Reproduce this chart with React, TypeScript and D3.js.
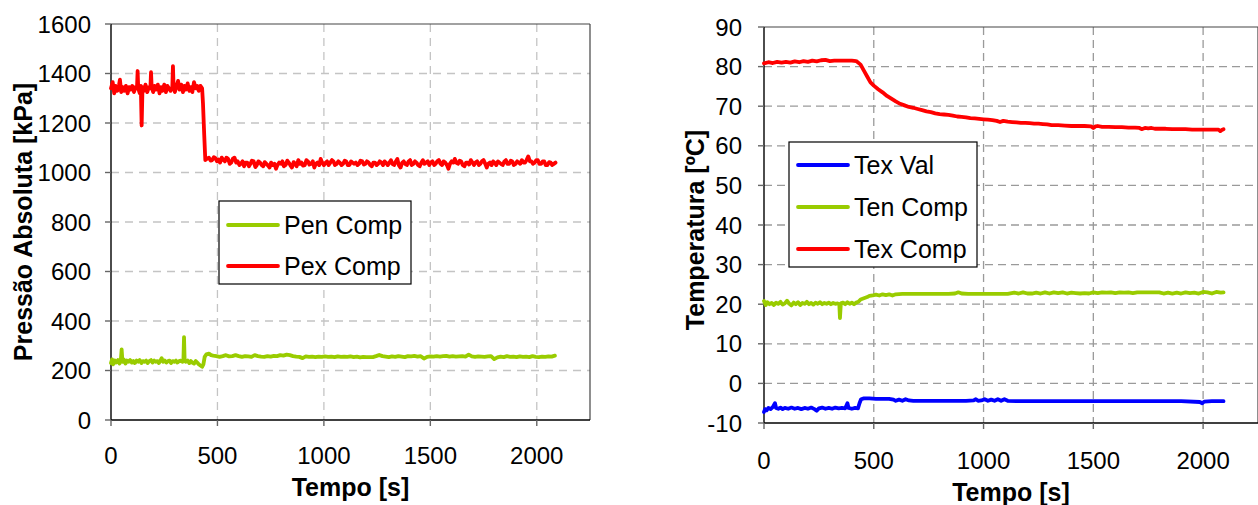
import * as d3 from "d3";

// time [s], value pairs
const penComp: [number, number][] = [
  [0, 230], [5, 245], [10, 225], [18, 240], [25, 232], [33, 242], [40, 228], [46, 240], [50, 285], [54, 235],
  [60, 245], [68, 228], [75, 240], [83, 235], [90, 242], [98, 232], [105, 238], [112, 230], [120, 240], [128, 235],
  [135, 242], [143, 230], [150, 238], [158, 235], [165, 240], [172, 230], [180, 238], [188, 242], [195, 232], [203, 240],
  [210, 235], [218, 238], [225, 230], [232, 240], [238, 250], [245, 235], [252, 240], [260, 232], [268, 238], [275, 240],
  [282, 230], [290, 238], [298, 235], [305, 240], [312, 232], [320, 238], [328, 240], [335, 235], [340, 238], [343, 335],
  [346, 238], [352, 235], [360, 240], [368, 230], [375, 238], [382, 232], [390, 228], [398, 238], [405, 232], [412, 225],
  [420, 220], [428, 215], [434, 225], [440, 255], [448, 265], [460, 268], [470, 262], [480, 260], [495, 258], [510, 255],
  [525, 258], [540, 262], [555, 257], [570, 258], [585, 262], [600, 258], [615, 255], [630, 258], [645, 257], [660, 255],
  [675, 262], [690, 258], [705, 256], [720, 255], [735, 258], [750, 256], [765, 259], [780, 258], [795, 262], [810, 260],
  [825, 264], [840, 262], [855, 258], [870, 256], [885, 255], [900, 250], [915, 257], [930, 255], [945, 256], [960, 254],
  [975, 256], [990, 255], [1005, 257], [1020, 255], [1035, 256], [1050, 254], [1065, 257], [1080, 255], [1095, 256], [1110, 255],
  [1125, 257], [1140, 254], [1155, 256], [1170, 253], [1185, 255], [1200, 254], [1215, 254], [1230, 254], [1245, 258], [1260, 263],
  [1275, 258], [1290, 256], [1305, 254], [1320, 257], [1335, 255], [1350, 258], [1365, 256], [1380, 254], [1395, 258], [1410, 257],
  [1425, 259], [1440, 256], [1455, 258], [1470, 248], [1485, 255], [1500, 257], [1515, 256], [1530, 258], [1545, 256], [1560, 258],
  [1575, 259], [1590, 256], [1605, 258], [1620, 256], [1635, 257], [1650, 258], [1665, 256], [1680, 264], [1695, 257], [1710, 255],
  [1725, 257], [1740, 256], [1755, 255], [1770, 257], [1785, 258], [1800, 246], [1815, 253], [1830, 256], [1845, 254], [1860, 258],
  [1875, 255], [1890, 256], [1905, 254], [1920, 257], [1935, 255], [1950, 256], [1965, 254], [1980, 258], [1995, 255], [2010, 254],
  [2025, 256], [2040, 255], [2055, 257], [2070, 256], [2085, 260],
];

const pexComp: [number, number][] = [
  [0, 1340], [8, 1365], [15, 1320], [22, 1350], [30, 1330], [38, 1355], [42, 1375], [48, 1325], [55, 1345], [62, 1330],
  [70, 1350], [78, 1320], [85, 1345], [92, 1335], [100, 1350], [108, 1325], [115, 1345], [122, 1340], [125, 1410], [128, 1340],
  [135, 1320], [140, 1350], [144, 1190], [148, 1345], [155, 1330], [162, 1355], [170, 1325], [178, 1345], [185, 1340], [188, 1405],
  [191, 1345], [198, 1325], [205, 1350], [212, 1335], [220, 1355], [228, 1320], [235, 1345], [242, 1330], [250, 1355], [258, 1325],
  [265, 1350], [272, 1340], [280, 1330], [288, 1345], [291, 1430], [294, 1345], [300, 1325], [308, 1350], [315, 1370], [322, 1335],
  [330, 1355], [338, 1325], [345, 1350], [352, 1335], [360, 1360], [368, 1330], [375, 1345], [382, 1325], [390, 1365], [398, 1340],
  [405, 1350], [412, 1330], [420, 1350], [428, 1340], [432, 1280], [438, 1150], [443, 1050], [450, 1055], [460, 1060], [468, 1048],
  [475, 1050], [483, 1062], [490, 1058], [498, 1045], [505, 1052], [512, 1040], [520, 1060], [528, 1050], [535, 1045], [542, 1060],
  [550, 1055], [558, 1035], [565, 1040], [572, 1055], [580, 1060], [588, 1040], [595, 1045], [603, 1030], [610, 1035], [618, 1045],
  [625, 1025], [632, 1040], [640, 1040], [648, 1025], [655, 1035], [662, 1048], [670, 1045], [678, 1022], [685, 1030], [692, 1045],
  [700, 1040], [708, 1030], [715, 1025], [722, 1042], [730, 1035], [738, 1028], [745, 1020], [752, 1040], [760, 1030], [768, 1035],
  [775, 1015], [782, 1030], [790, 1040], [798, 1035], [805, 1045], [812, 1025], [820, 1030], [828, 1048], [835, 1040], [842, 1030],
  [850, 1020], [858, 1042], [865, 1035], [872, 1025], [880, 1050], [888, 1035], [895, 1040], [902, 1028], [910, 1030], [918, 1050],
  [925, 1045], [932, 1032], [940, 1035], [948, 1045], [955, 1020], [962, 1035], [970, 1040], [978, 1030], [985, 1055], [992, 1040],
  [1000, 1030], [1008, 1040], [1015, 1045], [1022, 1030], [1030, 1040], [1038, 1050], [1045, 1045], [1052, 1030], [1060, 1035], [1068, 1045],
  [1075, 1040], [1083, 1030], [1090, 1035], [1098, 1048], [1105, 1045], [1112, 1030], [1120, 1030], [1128, 1045], [1135, 1040], [1142, 1035],
  [1150, 1040], [1158, 1030], [1165, 1035], [1172, 1048], [1180, 1045], [1188, 1032], [1195, 1035], [1202, 1045], [1210, 1040], [1218, 1030],
  [1225, 1025], [1232, 1040], [1240, 1040], [1248, 1030], [1255, 1035], [1262, 1045], [1270, 1040], [1278, 1030], [1285, 1045], [1292, 1040],
  [1300, 1030], [1308, 1040], [1315, 1050], [1322, 1035], [1330, 1030], [1338, 1045], [1345, 1055], [1352, 1030], [1360, 1020], [1368, 1040],
  [1375, 1045], [1382, 1035], [1390, 1030], [1398, 1045], [1405, 1050], [1412, 1030], [1420, 1035], [1428, 1045], [1435, 1040], [1442, 1030],
  [1450, 1025], [1458, 1040], [1465, 1050], [1472, 1035], [1480, 1040], [1488, 1045], [1495, 1030], [1502, 1040], [1510, 1045], [1518, 1030],
  [1525, 1035], [1532, 1045], [1540, 1050], [1548, 1035], [1555, 1030], [1562, 1045], [1570, 1040], [1578, 1030], [1585, 1015], [1592, 1035],
  [1600, 1045], [1608, 1040], [1615, 1055], [1622, 1040], [1630, 1035], [1638, 1048], [1645, 1045], [1652, 1030], [1660, 1025], [1668, 1040],
  [1675, 1040], [1682, 1032], [1690, 1050], [1698, 1040], [1705, 1030], [1712, 1040], [1720, 1045], [1728, 1030], [1735, 1035], [1742, 1045],
  [1750, 1050], [1758, 1035], [1765, 1020], [1772, 1035], [1780, 1040], [1788, 1030], [1795, 1045], [1802, 1040], [1810, 1030], [1818, 1045],
  [1825, 1040], [1832, 1035], [1840, 1030], [1848, 1045], [1855, 1050], [1862, 1035], [1870, 1035], [1878, 1048], [1885, 1045], [1892, 1030],
  [1900, 1035], [1908, 1045], [1915, 1040], [1922, 1035], [1930, 1050], [1938, 1040], [1945, 1040], [1952, 1050], [1960, 1065], [1968, 1045],
  [1975, 1045], [1982, 1035], [1990, 1040], [1998, 1050], [2005, 1050], [2012, 1035], [2020, 1035], [2028, 1045], [2035, 1045], [2042, 1030],
  [2050, 1030], [2058, 1042], [2065, 1040], [2072, 1030], [2080, 1035], [2088, 1040],
];

const texVal: [number, number][] = [
  [0, -7.2], [5, -6.5], [12, -6.8], [20, -6.2], [30, -6.5], [40, -6.0], [50, -5.0], [55, -6.2], [65, -6.4], [75, -6.1],
  [85, -6.5], [95, -6.2], [110, -6.4], [125, -6.1], [140, -6.4], [155, -6.2], [170, -6.5], [185, -6.2], [200, -6.4], [215, -6.1],
  [230, -6.5], [240, -6.9], [250, -6.3], [265, -6.1], [280, -6.4], [295, -6.2], [310, -6.4], [325, -6.1], [340, -6.3], [355, -6.2],
  [370, -6.3], [380, -5.0], [385, -6.2], [400, -6.4], [415, -6.2], [428, -6.3], [435, -5.0], [442, -4.0], [455, -3.8], [480, -3.8],
  [510, -3.9], [540, -3.9], [570, -3.9], [590, -4.1], [600, -4.4], [615, -4.1], [630, -4.4], [645, -4.0], [660, -4.3], [680, -4.4],
  [720, -4.4], [760, -4.4], [800, -4.4], [840, -4.4], [880, -4.4], [920, -4.4], [955, -4.3], [965, -4.0], [975, -4.4], [990, -4.3],
  [1005, -4.0], [1020, -4.4], [1035, -4.1], [1050, -4.4], [1065, -4.0], [1080, -4.4], [1095, -4.0], [1110, -4.4], [1150, -4.5], [1200, -4.5],
  [1300, -4.5], [1400, -4.5], [1500, -4.5], [1600, -4.5], [1700, -4.5], [1800, -4.5], [1900, -4.5], [1985, -4.7], [1996, -5.0], [2005, -4.6],
  [2040, -4.5], [2093, -4.5],
];

const tenComp: [number, number][] = [
  [0, 20.8], [8, 19.8], [15, 20.5], [25, 20.0], [35, 20.3], [45, 19.8], [55, 20.4], [65, 20.1], [75, 20.6], [85, 19.9],
  [95, 20.2], [105, 20.9], [115, 20.1], [125, 19.7], [135, 20.4], [145, 20.0], [155, 20.5], [165, 19.8], [175, 20.3], [185, 20.1],
  [195, 20.6], [205, 20.0], [215, 20.3], [225, 19.9], [235, 20.4], [245, 20.1], [255, 20.5], [265, 20.0], [275, 20.3], [285, 20.1],
  [295, 20.4], [305, 20.0], [315, 20.3], [325, 20.1], [335, 20.2], [343, 20.0], [346, 16.5], [350, 20.2], [360, 20.4], [370, 20.0],
  [380, 20.5], [390, 20.1], [400, 20.4], [410, 20.0], [420, 20.4], [430, 20.6], [440, 21.2], [455, 21.5], [470, 21.8], [480, 22.1],
  [495, 22.2], [510, 22.4], [525, 22.2], [540, 22.5], [555, 22.3], [570, 22.5], [585, 22.2], [600, 22.5], [630, 22.6], [660, 22.6],
  [690, 22.6], [720, 22.6], [750, 22.6], [780, 22.6], [810, 22.6], [840, 22.6], [870, 22.7], [885, 23.0], [900, 22.7], [930, 22.6],
  [960, 22.6], [990, 22.6], [1020, 22.6], [1050, 22.6], [1080, 22.6], [1110, 22.6], [1140, 22.9], [1160, 22.7], [1180, 23.0], [1200, 22.7],
  [1220, 22.7], [1240, 22.9], [1260, 22.7], [1280, 23.0], [1300, 22.7], [1320, 23.0], [1340, 22.8], [1360, 23.0], [1380, 22.7], [1400, 22.9],
  [1420, 22.8], [1440, 22.7], [1460, 22.8], [1480, 22.7], [1500, 23.0], [1520, 22.8], [1540, 23.0], [1560, 22.9], [1580, 23.0], [1600, 22.8],
  [1620, 23.0], [1640, 22.9], [1660, 23.0], [1680, 22.8], [1700, 23.0], [1720, 23.0], [1740, 23.0], [1760, 23.0], [1780, 23.0], [1800, 23.0],
  [1820, 22.7], [1840, 22.9], [1860, 22.7], [1880, 22.9], [1900, 22.7], [1920, 23.0], [1940, 22.8], [1960, 22.9], [1980, 22.7], [2000, 23.1],
  [2020, 23.0], [2040, 22.7], [2060, 23.1], [2080, 22.9], [2093, 23.0],
];

const texComp: [number, number][] = [
  [0, 80.8], [20, 81.1], [40, 80.9], [60, 81.2], [80, 81.0], [100, 81.2], [120, 81.0], [140, 81.3], [160, 81.1], [180, 81.4],
  [200, 81.2], [220, 81.5], [240, 81.3], [260, 81.6], [280, 81.7], [300, 81.4], [320, 81.5], [340, 81.5], [360, 81.5], [380, 81.5],
  [400, 81.5], [420, 81.4], [440, 80.5], [455, 79.0], [470, 77.5], [485, 76.0], [500, 75.2], [520, 74.3], [540, 73.5], [560, 72.6],
  [580, 71.9], [600, 71.2], [620, 70.6], [640, 70.2], [660, 69.8], [680, 69.6], [700, 69.3], [720, 69.0], [740, 68.7], [760, 68.5],
  [780, 68.2], [800, 68.0], [820, 67.9], [840, 67.8], [860, 67.6], [880, 67.4], [900, 67.3], [920, 67.2], [940, 67.0], [960, 66.9],
  [980, 66.8], [1000, 66.7], [1020, 66.6], [1040, 66.5], [1060, 66.3], [1075, 66.0], [1090, 66.3], [1110, 66.1], [1130, 66.0], [1150, 65.9],
  [1170, 65.8], [1190, 65.8], [1210, 65.7], [1230, 65.6], [1250, 65.6], [1270, 65.5], [1290, 65.4], [1310, 65.2], [1340, 65.2], [1370, 65.1],
  [1400, 65.0], [1430, 65.0], [1460, 65.0], [1490, 64.9], [1500, 64.5], [1510, 64.9], [1520, 65.0], [1540, 64.8], [1570, 64.8], [1600, 64.7],
  [1630, 64.7], [1660, 64.6], [1690, 64.6], [1710, 64.5], [1720, 64.2], [1735, 64.5], [1750, 64.4], [1765, 64.5], [1780, 64.3], [1800, 64.3],
  [1830, 64.3], [1860, 64.2], [1890, 64.2], [1920, 64.2], [1950, 64.1], [1980, 64.1], [2010, 64.1], [2040, 64.1], [2070, 64.1], [2078, 63.7],
  [2085, 64.0], [2093, 64.2],
];

const xTicks = [0, 500, 1000, 1500, 2000];
const pTicks = [0, 200, 400, 600, 800, 1000, 1200, 1400, 1600];
const tTicks = [-10, 0, 10, 20, 30, 40, 50, 60, 70, 80, 90];

const RED = "#ff0000";
const GREEN = "#99cc00";
const BLUE = "#0000ff";
const FONT = "'Liberation Sans', Arial, sans-serif";

type Series = { name: string; color: string; data: [number, number][] };

function Panel(props: {
  x0: number; x1: number; y0: number; y1: number;
  yDomain: [number, number]; yTicks: number[];
  gridColor: string; dash: string; labelGap: number;
  xLabelY: number; titleY: number; yTitle: string; yTitleX: number; yTitleY: number;
  series: Series[];
  legend: { x: number; y: number; w: number; h: number; rowGap: number; first: number; order: Series[] };
}) {
  const p = props;
  const x = d3.scaleLinear().domain([0, 2250]).range([p.x0, p.x1]);
  const y = d3.scaleLinear().domain(p.yDomain).range([p.y1, p.y0]);
  const line = d3.line<[number, number]>().x((d) => x(d[0])).y((d) => y(d[1]));
  const cx = (p.x0 + p.x1) / 2;
  return (
    <g fontFamily={FONT}>
      {/* grid */}
      {p.yTicks.slice(1, -1).map((t) => (
        <line key={"gy" + t} x1={p.x0} x2={p.x1} y1={y(t)} y2={y(t)} stroke={p.gridColor} strokeWidth={1.3} strokeDasharray={p.dash} />
      ))}
      {xTicks.slice(1).map((t) => (
        <line key={"gx" + t} x1={x(t)} x2={x(t)} y1={p.y0} y2={p.y1} stroke={p.gridColor} strokeWidth={1.3} strokeDasharray={p.dash} />
      ))}
      {/* frame */}
      <line x1={p.x0} x2={p.x1} y1={p.y0} y2={p.y0} stroke="#444" strokeWidth={1.2} />
      <line x1={p.x1} x2={p.x1} y1={p.y0} y2={p.y1} stroke="#444" strokeWidth={1.2} />
      <line x1={p.x0} x2={p.x1} y1={p.y1} y2={p.y1} stroke="#000" strokeWidth={1.4} />
      <line x1={p.x0} x2={p.x0} y1={p.y0} y2={p.y1} stroke="#000" strokeWidth={1.4} />
      {/* ticks */}
      {p.yTicks.map((t) => (
        <g key={"ty" + t}>
          <line x1={p.x0 - 6} x2={p.x0} y1={y(t)} y2={y(t)} stroke="#666" strokeWidth={1.4} />
          <text x={p.x0 - p.labelGap} y={y(t) + 8.5} textAnchor="end" fontSize={24}>{t}</text>
        </g>
      ))}
      {xTicks.map((t) => (
        <g key={"tx" + t}>
          <line x1={x(t)} x2={x(t)} y1={p.y1} y2={p.y1 + 6} stroke="#666" strokeWidth={1.4} />
          <text x={x(t)} y={p.xLabelY} textAnchor="middle" fontSize={24}>{t}</text>
        </g>
      ))}
      {/* series */}
      {p.series.map((s) => (
        <path key={s.name} d={line(s.data) ?? ""} fill="none" stroke={s.color} strokeWidth={3.8} strokeLinejoin="round" strokeLinecap="round" />
      ))}
      {/* titles */}
      <text x={cx} y={p.titleY} textAnchor="middle" fontSize={25} fontWeight="bold">Tempo [s]</text>
      <text transform={`translate(${p.yTitleX},${p.yTitleY}) rotate(-90)`} textAnchor="middle" fontSize={25} fontWeight="bold">{p.yTitle}</text>
      {/* legend */}
      <rect x={p.legend.x} y={p.legend.y} width={p.legend.w} height={p.legend.h} fill="#fff" stroke="#000" strokeWidth={1.2} />
      {p.legend.order.map((s, i) => {
        const ly = p.legend.y + p.legend.first + i * p.legend.rowGap;
        return (
          <g key={"lg" + s.name}>
            <line x1={p.legend.x + 9} x2={p.legend.x + 59} y1={ly} y2={ly} stroke={s.color} strokeWidth={3.8} strokeLinecap="round" />
            <text x={p.legend.x + 65} y={ly + 9} fontSize={25}>{s.name}</text>
          </g>
        );
      })}
    </g>
  );
}

export default function App() {
  const left: Series[] = [
    { name: "Pen Comp", color: GREEN, data: penComp },
    { name: "Pex Comp", color: RED, data: pexComp },
  ];
  const right: Series[] = [
    { name: "Tex Val", color: BLUE, data: texVal },
    { name: "Ten Comp", color: GREEN, data: tenComp },
    { name: "Tex Comp", color: RED, data: texComp },
  ];
  return (
    <svg width={1258} height={505} style={{ position: "absolute", left: 0, top: 0, background: "#fff" }}>
      <Panel
        x0={111} x1={590} y0={24} y1={420}
        yDomain={[0, 1600]} yTicks={pTicks}
        gridColor="#c4c4c4" dash="8 6" labelGap={20}
        xLabelY={464} titleY={496} yTitle="Pressão Absoluta [kPa]" yTitleX={32} yTitleY={222}
        series={left}
        legend={{ x: 219, y: 201, w: 192, h: 83, rowGap: 41, first: 24, order: left }}
      />
      <Panel
        x0={764} x1={1258} y0={27} y1={423}
        yDomain={[-10, 90]} yTicks={tTicks}
        gridColor="#9a9a9a" dash="8 5" labelGap={22}
        xLabelY={469} titleY={501} yTitle="Temperatura [ºC]" yTitleX={704} yTitleY={230}
        series={right}
        legend={{ x: 789, y: 142, w: 188, h: 125, rowGap: 42, first: 23, order: right }}
      />
    </svg>
  );
}
